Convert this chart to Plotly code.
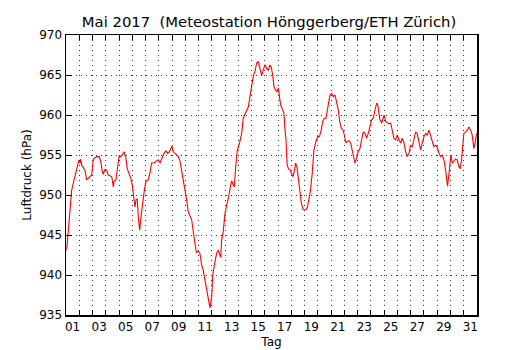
import plotly.graph_objects as go

# time in days since 1 May 2017 00:00
days = [0.05, 0.25, 0.43, 0.55, 0.73, 0.85, 0.98, 1.06, 1.11, 1.18, 1.30, 1.43, 1.56, 1.68, 1.81, 1.94,
        2.06, 2.19, 2.32, 2.51, 2.62, 2.74, 2.81, 2.94, 3.07, 3.19, 3.32, 3.45, 3.57, 3.62, 3.77, 3.87,
        4.00, 4.12, 4.25, 4.37, 4.50, 4.62, 4.75, 4.88, 5.00, 5.08, 5.15, 5.20, 5.28, 5.38, 5.45, 5.56,
        5.66, 5.78, 5.91, 6.03, 6.21, 6.33, 6.46, 6.64, 6.84, 6.96, 7.09, 7.22, 7.39, 7.54, 7.67, 7.79,
        7.90, 7.99, 8.09, 8.22, 8.35, 8.47, 8.60, 8.72, 8.85, 8.97, 9.10, 9.22, 9.35, 9.48, 9.60, 9.73,
        9.83, 9.98, 10.10, 10.23, 10.35, 10.48, 10.61, 10.73, 10.86, 10.99, 11.06, 11.16, 11.26, 11.36,
        11.48, 11.56, 11.67, 11.74, 11.86, 11.99, 12.12, 12.29, 12.42, 12.50, 12.62, 12.69, 12.80, 12.92,
        13.05, 13.12, 13.25, 13.37, 13.50, 13.63, 13.75, 13.82, 13.93, 14.00, 14.08, 14.18, 14.25, 14.38,
        14.50, 14.63, 14.76, 14.88, 15.01, 15.14, 15.26, 15.38, 15.48, 15.59, 15.69, 15.81, 15.93, 16.01,
        16.08, 16.19, 16.31, 16.44, 16.51, 16.59, 16.68, 16.78, 16.91, 17.01, 17.11, 17.24, 17.32, 17.42,
        17.52, 17.62, 17.75, 17.88, 18.00, 18.13, 18.21, 18.31, 18.44, 18.57, 18.70, 18.85, 18.98, 19.10,
        19.23, 19.36, 19.48, 19.61, 19.73, 19.86, 19.91, 20.04, 20.16, 20.29, 20.41, 20.54, 20.66, 20.79,
        20.91, 21.04, 21.12, 21.21, 21.34, 21.47, 21.57, 21.67, 21.79, 21.92, 22.04, 22.17, 22.30, 22.42,
        22.55, 22.68, 22.80, 22.93, 23.05, 23.17, 23.30, 23.43, 23.51, 23.60, 23.68, 23.81, 23.93, 24.00,
        24.11, 24.23, 24.36, 24.49, 24.61, 24.73, 24.86, 24.98, 25.11, 25.24, 25.36, 25.49, 25.62, 25.74,
        25.87, 25.99, 26.11, 26.24, 26.37, 26.49, 26.62, 26.75, 26.87, 27.00, 27.13, 27.25, 27.38, 27.50,
        27.62, 27.75, 27.88, 28.00, 28.13, 28.26, 28.38, 28.51, 28.63, 28.71, 28.78, 28.86, 28.96, 29.03,
        29.13, 29.26, 29.39, 29.51, 29.64, 29.73, 29.84, 29.92, 30.01, 30.14, 30.26, 30.39, 30.52, 30.64,
        30.76, 30.86, 30.97]

pressure = [943.1, 946.9, 950.6, 951.5, 952.7, 953.3, 954.4, 954.0, 954.5, 953.75, 953.5, 953.1, 951.9, 952.1, 952.4, 952.5,
            954.5, 954.7, 954.8, 954.8, 954.2, 952.9, 952.6, 953.2, 953.1, 952.5, 952.4, 952.3, 951.0, 951.7, 951.9, 953.5,
            954.8, 954.8, 955.0, 955.4, 954.8, 953.3, 952.7, 952.1, 951.25, 950.2, 949.4, 948.5, 949.4, 949.5, 947.3, 945.6,
            947.3, 949.0, 950.6, 951.7, 951.9, 952.7, 954.0, 954.0, 954.2, 954.4, 954.0, 954.5, 955.2, 955.5, 955.2, 955.4,
            955.8, 956.1, 955.4, 955.2, 955.0, 954.8, 954.2, 953.1, 951.5, 950.6, 949.4, 947.9, 947.5, 946.9, 945.4, 944.0,
            942.8, 943.0, 942.7, 941.25, 940.6, 939.4, 938.1, 936.9, 935.9, 937.3, 939.8, 941.0, 941.7, 942.7,
            943.1, 942.7, 942.2, 944.4, 945.4, 947.7, 948.6, 950.0, 951.25, 951.75, 951.25, 951.0, 953.5, 955.6,
            956.25, 956.7, 957.7, 959.6, 960.0, 960.6, 961.0, 961.7, 963.1, 964.0, 964.4, 965.2, 965.4, 966.5,
            966.7, 965.8, 965.0, 965.6, 966.3, 965.8, 965.6, 966.25, 966.0, 965.0, 963.5, 963.1, 962.9, 963.4,
            962.5, 961.25, 960.8, 960.2, 958.3, 957.0, 953.75, 953.3, 953.1, 952.7, 952.3, 953.1, 954.0, 953.5,
            951.9, 950.2, 949.0, 948.2, 948.1, 948.2, 948.5, 949.4, 950.6, 952.7, 955.6, 956.7, 957.3, 957.3,
            957.9, 959.2, 959.6, 959.6, 960.6, 961.7, 962.5, 962.7, 962.3, 962.5, 961.7, 960.6, 959.0, 958.3,
            958.1, 957.3, 956.5, 956.7, 956.8, 956.5, 955.6, 954.8, 954.0, 954.6, 955.4, 955.8, 956.9, 957.9,
            957.7, 957.1, 957.7, 958.75, 959.4, 959.6, 960.6, 961.5, 961.25, 960.2, 959.4, 959.0, 959.9, 960.0,
            959.2, 959.0, 958.9, 959.0, 958.1, 957.1, 956.9, 957.5, 956.9, 956.5, 957.1, 956.5, 955.4, 954.8,
            955.2, 956.25, 956.0, 956.9, 957.9, 957.7, 956.7, 955.6, 956.5, 957.3, 957.7, 957.5, 958.1, 957.3,
            956.7, 956.0, 956.25, 956.0, 955.2, 954.8, 955.0, 954.4, 953.1, 951.9, 951.1, 952.3, 954.6, 955.0,
            954.0, 954.2, 954.5, 954.4, 953.5, 953.3, 954.4, 956.0, 957.7, 957.9, 958.1, 958.5, 958.1, 957.5,
            955.8, 956.5, 957.7]

day_labels = ["01", "03", "05", "07", "09", "11", "13", "15", "17", "19", "21", "23", "25", "27", "29", "31"]
label_positions = [int(s) - 0.5 for s in day_labels]
day_boundaries = list(range(1, 31))
y_ticks = [935, 940, 945, 950, 955, 960, 965, 970]

FONT = "DejaVu Sans"
GRID_DASH = "1px,4px"
GRID_COLOR = "#333333"

fig = go.Figure()
fig.add_trace(go.Scatter(x=days, y=pressure, mode="lines",
                         line=dict(color="#ff0000", width=1.1), showlegend=False,
                         hoverinfo="skip"))
# empty trace to activate the top tick axis
fig.add_trace(go.Scatter(x=[], y=[], xaxis="x2", showlegend=False, hoverinfo="skip"))

fig.update_layout(
    template="none",
    width=530, height=350,
    margin=dict(l=66, r=53, t=35, b=35, autoexpand=False),
    paper_bgcolor="white", plot_bgcolor="white",
    font=dict(family=FONT, size=12, color="black"),
    title=dict(text="Mai 2017  (Meteostation Hönggerberg/ETH Zürich)",
               x=0.494, xanchor="center", xref="paper", y=0.937, yref="container",
               yanchor="middle", automargin=False,
               font=dict(family=FONT, size=14.8, color="black")),
    xaxis=dict(range=[0, 31], tickmode="array", tickvals=label_positions, ticktext=day_labels,
               ticks="", showgrid=False, zeroline=False, automargin=False,
               showline=True, linecolor="black", linewidth=1.5, mirror=True,
               tickfont=dict(size=12),
               minor=dict(tickmode="array", tickvals=day_boundaries, ticks="inside", ticklen=5,
                          tickcolor="black", tickwidth=1, showgrid=True, gridcolor=GRID_COLOR,
                          gridwidth=1, griddash=GRID_DASH),
               title=dict(text="Tag", font=dict(size=12), standoff=4)),
    xaxis2=dict(range=[0, 31], overlaying="x", side="top", anchor="y", tickmode="array",
                tickvals=day_boundaries, ticks="inside", ticklen=5, tickcolor="black",
                showticklabels=False, showgrid=False, zeroline=False, showline=False,
                automargin=False),
    yaxis=dict(range=[935, 970], tickmode="array", tickvals=y_ticks,
               ticks="inside", ticklen=6, tickcolor="black", tickwidth=1,
               showgrid=True, gridcolor=GRID_COLOR, gridwidth=1, griddash=GRID_DASH,
               zeroline=False, showline=True, linecolor="black", linewidth=1.5, mirror="ticks",
               tickfont=dict(size=12), automargin=True,
               title=dict(text="Luftdruck (hPa)", font=dict(size=12), standoff=5)),
)

fig.write_html("out.html", config={"displayModeBar": False, "staticPlot": True},
               post_script="document.body.style.margin='0';document.body.style.padding='0';"
                           "document.body.style.overflow='hidden';")
